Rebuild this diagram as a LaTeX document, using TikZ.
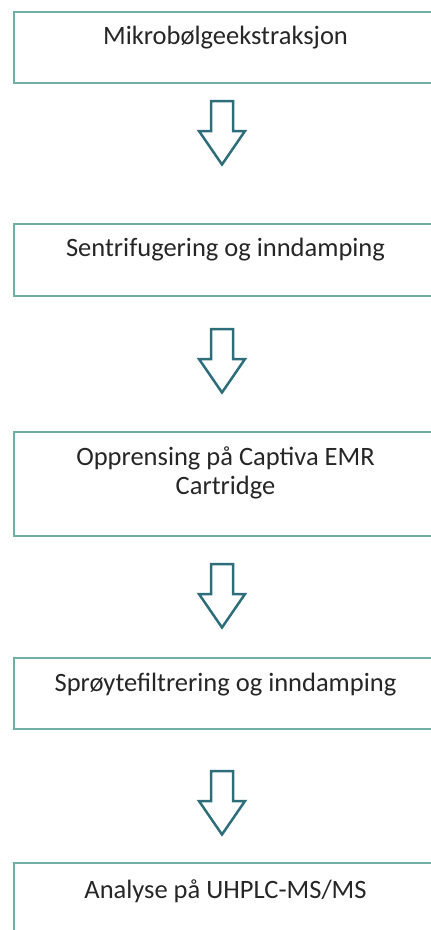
\documentclass[tikz,border=0pt]{standalone}
\usepackage{fontspec}
\setmainfont{Carlito}
\usetikzlibrary{positioning}
\definecolor{boxline}{HTML}{6FAFA5}
\definecolor{arrline}{HTML}{2E6E7A}

\begin{document}
\begin{tikzpicture}[x=1pt,y=-1pt,
  stepbox/.style={draw=boxline,line width=2pt,minimum width=423pt,anchor=north west,inner sep=0pt},
  steptext/.style={anchor=base,font=\fontsize{26.5}{29}\selectfont,text=black!85,align=center,inner sep=0pt},
  downarrow/.pic={\draw[arrline,line width=2.5pt,line join=miter] (-11,0) -- (11,0) -- (11,30) -- (23,30) -- (0,63.5) -- (-23,30) -- (-11,30) -- cycle;}]
\useasboundingbox (0,0) rectangle (431,930);
\clip (0,0) rectangle (431,930);
% boxes
\node[stepbox,minimum height=71pt] (b1) at (13,11) {};
\node[stepbox,minimum height=72pt] (b2) at (13,223) {};
\node[stepbox,minimum height=104pt] (b3) at (13,431) {};
\node[stepbox,minimum height=71pt] (b4) at (13,657) {};
\node[stepbox,minimum height=90pt] (b5) at (13,862) {};
% texts
\node[steptext] (t1) at ([yshift=-33pt]b1.north) {Mikrobølgeekstraksjon};
\node[steptext] (t2) at ([yshift=-33pt]b2.north) {Sentrifugering og inndamping};
\node[steptext] (t3) at ([yshift=-63pt]b3.north) {Opprensing på Captiva EMR\\Cartridge};
\node[steptext] (t4) at ([yshift=-34pt]b4.north) {Sprøytefiltrering og inndamping};
\node[steptext] (t5) at ([yshift=-36pt]b5.north) {Analyse på UHPLC-MS/MS};
% arrows
\foreach \n/\y in {1/101,2/329,3/564,4/771}
  \pic (a\n) at (222,\y) {downarrow};
\end{tikzpicture}
\end{document}
